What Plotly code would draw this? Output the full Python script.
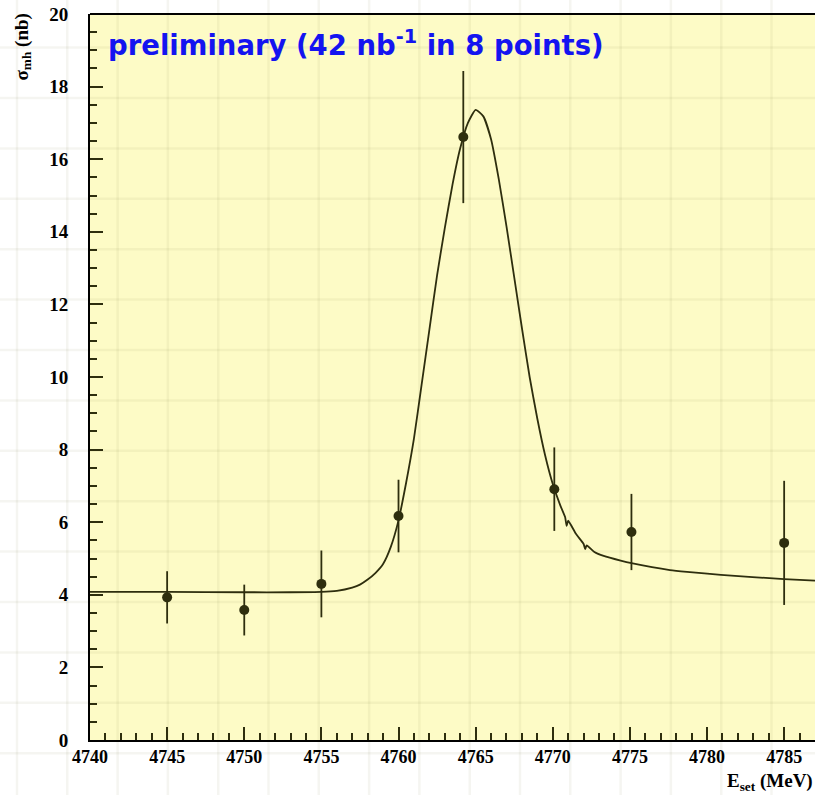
import plotly.graph_objects as go

# ---- data ----
energy = [4745.0, 4750.0, 4755.0, 4760.0, 4764.2, 4770.1, 4775.1, 4785.0]
sigma = [3.93, 3.58, 4.30, 6.17, 16.61, 6.91, 5.73, 5.43]
sigma_err = [0.72, 0.70, 0.92, 1.00, 1.82, 1.15, 1.05, 1.71]

curve_x = [4740.0, 4745.0, 4750.0, 4753.0, 4755.0, 4756.0, 4757.0, 4757.5, 4758.0,
           4758.5, 4759.0, 4759.5, 4760.0, 4760.5, 4761.0, 4761.5, 4762.0, 4762.5,
           4763.0, 4763.5, 4764.0, 4764.5, 4765.0, 4765.5, 4766.0, 4766.5, 4767.0,
           4767.5, 4768.0, 4768.5, 4769.0, 4769.5, 4770.0, 4770.5, 4770.8, 4770.9,
           4771.0, 4771.5, 4772.0, 4772.1, 4772.2, 4772.7, 4773.3, 4774.4, 4775.1,
           4777.6, 4778.7, 4780.9, 4785.0, 4787.0]
curve_y = [4.08, 4.08, 4.07, 4.07, 4.08, 4.11, 4.20, 4.28, 4.42,
           4.60, 4.85, 5.32, 6.05, 7.10, 8.30, 9.80, 11.30, 12.80,
           14.10, 15.30, 16.30, 17.00, 17.36, 17.18, 16.55, 15.45, 14.15,
           12.75, 11.35, 10.00, 8.85, 7.85, 7.05, 6.45, 6.14, 5.90,
           6.04, 5.68, 5.40, 5.26, 5.36, 5.18, 5.07, 4.94, 4.87,
           4.68, 4.63, 4.55, 4.43, 4.39]

x_range = [4740, 4787]
y_range = [0, 20]
x_ticks = [4740, 4745, 4750, 4755, 4760, 4765, 4770, 4775, 4780, 4785]
y_ticks = [0, 2, 4, 6, 8, 10, 12, 14, 16, 18, 20]

W, H = 815, 795
ML, MR, MT, MB = 90, 0, 14, 55
PW, PH = W - ML - MR, H - MT - MB


def pxx(px):
    return (px - ML) / PW


def pxy(py):
    return (MT + PH - py) / PH


ink = "#2e2e0e"
fig = go.Figure()
fig.add_trace(go.Scatter(x=curve_x, y=curve_y, mode="lines",
                         line=dict(color=ink, width=1.8, shape="spline",
                                   smoothing=0.5),
                         hoverinfo="skip", showlegend=False))
fig.add_trace(go.Scatter(x=energy, y=sigma, mode="markers",
                         marker=dict(color=ink, size=10),
                         error_y=dict(type="data", array=sigma_err, color=ink,
                                      thickness=1.8, width=0),
                         showlegend=False))

# faint graph-paper background
shapes = []
gcol = "rgba(110,110,60,0.07)"
px = 17.0
while px < W:
    shapes.append(dict(type="line", xref="paper", yref="paper", x0=pxx(px),
                       x1=pxx(px), y0=pxy(H), y1=pxy(0), layer="below",
                       line=dict(color=gcol, width=2.5)))
    px += 50.3
py = 47.6
while py < H:
    shapes.append(dict(type="line", xref="paper", yref="paper", y0=pxy(py),
                       y1=pxy(py), x0=pxx(0), x1=1.0, layer="below",
                       line=dict(color=gcol, width=2.5)))
    py += 50.4
# top frame line
shapes.append(dict(type="line", xref="paper", yref="paper", x0=0, x1=1, y0=1, y1=1,
                   line=dict(color="black", width=2)))

tickfont = dict(family="Liberation Serif", size=18, color="black", weight="bold")
ytickfont = dict(family="Liberation Serif", size=19, color="black", weight="bold")
fig.update_layout(
    width=W, height=H,
    margin=dict(l=ML, r=MR, t=MT, b=MB),
    paper_bgcolor="white", plot_bgcolor="#fdfbc6",
    shapes=shapes,
    xaxis=dict(range=x_range, tickvals=x_ticks, ticks="inside", ticklen=13,
               tickwidth=1.5, tickcolor=ink, showline=True, linecolor="black",
               linewidth=2, showgrid=False, zeroline=False, tickfont=tickfont,
               ticklabelstandoff=-1,
               minor=dict(dtick=1, ticks="inside", ticklen=7, tickwidth=1.5,
                          tickcolor=ink, showgrid=False)),
    yaxis=dict(range=y_range, tickvals=y_ticks, ticks="inside", ticklen=13,
               tickwidth=1.5, tickcolor=ink, showline=True, linecolor="black",
               linewidth=2, showgrid=False, zeroline=False, tickfont=ytickfont,
               ticklabelstandoff=16,
               minor=dict(dtick=0.5, ticks="inside", ticklen=7, tickwidth=1.5,
                          tickcolor=ink, showgrid=False)),
    annotations=[
        dict(text="preliminary (42 nb<sup>-1</sup> in 8 points)", xref="paper",
             yref="paper", x=pxx(106), y=pxy(43),
             xanchor="left", yanchor="middle", showarrow=False,
             font=dict(family="DejaVu Sans", size=27.5, color="#1414f0",
                       weight="bold")),
        dict(text="E<sub>set</sub> (MeV)", xref="paper", yref="paper",
             x=1.0, y=pxy(782), xanchor="right", yanchor="middle",
             showarrow=False, font=ytickfont),
        dict(text="σ<sub>mh</sub> (nb)", xref="paper", yref="paper", textangle=-90,
             x=pxx(22), y=pxy(12), xanchor="center",
             yanchor="top", showarrow=False, font=ytickfont),
    ],
)

fig.write_html("out.html")
